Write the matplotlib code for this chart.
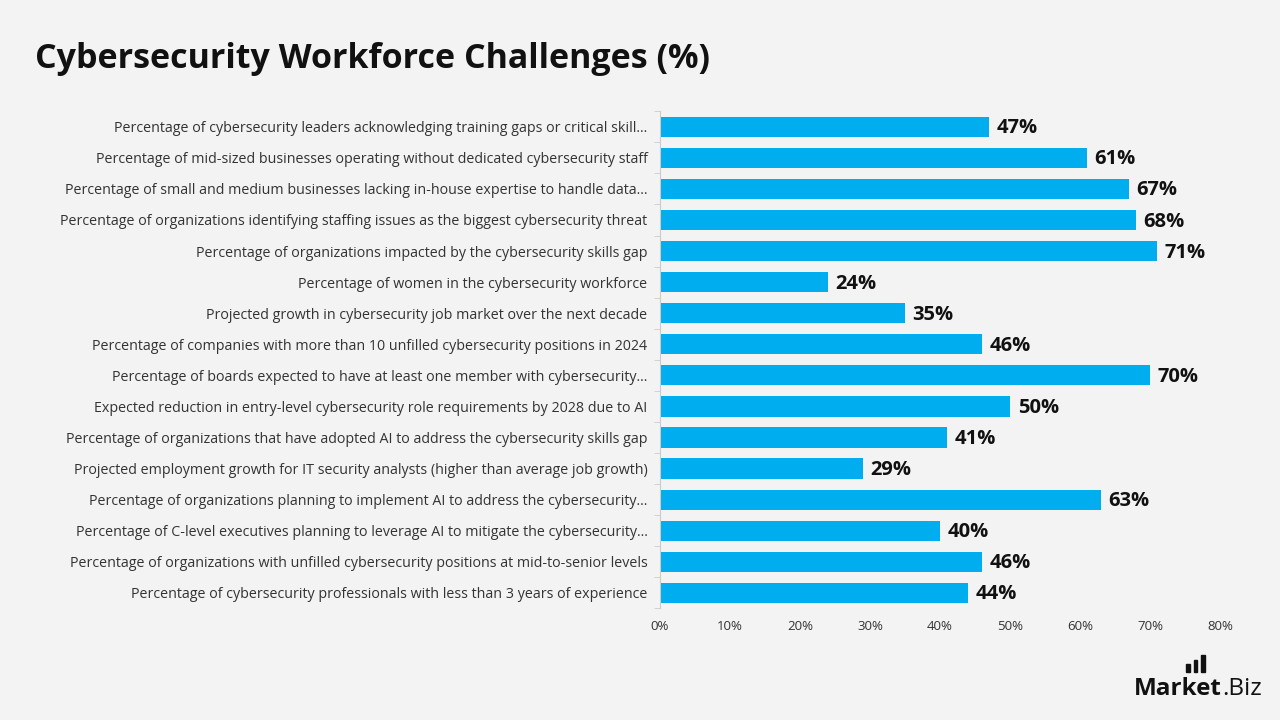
import numpy as np
import matplotlib.pyplot as plt
from matplotlib.patches import Rectangle

plt.rcParams['font.family'] = ['Open Sans', 'DejaVu Sans']

# Data (top to bottom as shown)
labels = [
    "Percentage of cybersecurity leaders acknowledging training gaps or critical skill...",
    "Percentage of mid-sized businesses operating without dedicated cybersecurity staff",
    "Percentage of small and medium businesses lacking in-house expertise to handle data...",
    "Percentage of organizations identifying staffing issues as the biggest cybersecurity threat",
    "Percentage of organizations impacted by the cybersecurity skills gap",
    "Percentage of women in the cybersecurity workforce",
    "Projected growth in cybersecurity job market over the next decade",
    "Percentage of companies with more than 10 unfilled cybersecurity positions in 2024",
    "Percentage of boards expected to have at least one member with cybersecurity...",
    "Expected reduction in entry-level cybersecurity role requirements by 2028 due to AI",
    "Percentage of organizations that have adopted AI to address the cybersecurity skills gap",
    "Projected employment growth for IT security analysts (higher than average job growth)",
    "Percentage of organizations planning to implement AI to address the cybersecurity...",
    "Percentage of C-level executives planning to leverage AI to mitigate the cybersecurity...",
    "Percentage of organizations with unfilled cybersecurity positions at mid-to-senior levels",
    "Percentage of cybersecurity professionals with less than 3 years of experience",
]
values = [47, 61, 67, 68, 71, 24, 35, 46, 70, 50, 41, 29, 63, 40, 46, 44]
xticks = [0, 10, 20, 30, 40, 50, 60, 70, 80]

bg = '#f3f3f3'
fig = plt.figure(figsize=(12.8, 7.2), dpi=100, facecolor=bg)
ax = fig.add_axes([0.5156, 0.155, 0.4375, 0.6905], facecolor=bg)

y = np.arange(len(values))
ax.barh(y, values, height=0.65, color='#00adef')
for yi, v in zip(y, values):
    ax.text(v + 1.1, yi + 0.05, f"{v}%", va='center', ha='left', fontsize=14.5,
            fontweight='bold', color='#111111')

ax.set_ylim(len(values) - 0.5, -0.5)
ax.set_xlim(0, 80)
ax.set_yticks(y)
ax.set_yticklabels(labels, fontsize=10.3, color='#333333')
ax.set_yticks(np.arange(len(values) + 1) - 0.5, minor=True)
ax.tick_params(axis='y', which='major', length=0, pad=9)
ax.tick_params(axis='y', which='minor', length=4, color='#cccccc')
ax.set_xticks(xticks)
ax.set_xticklabels([f"{t}%" for t in xticks], fontsize=9.5, color='#333333')
ax.tick_params(axis='x', length=0, pad=8)
for s in ['top', 'right', 'bottom']:
    ax.spines[s].set_visible(False)
ax.spines['left'].set_color('#cccccc')

fig.text(0.027, 0.918, "Cybersecurity Workforce Challenges (%)", fontsize=24.5,
         fontweight='bold', color='#111111', va='center')

# logo
fig.text(0.9547, 0.035, "Market", fontsize=17.5, fontweight='bold', color='#111111', ha='right')
fig.text(0.9547, 0.035, ".Biz", fontsize=17.5, color='#111111', ha='left')
for i, h in enumerate([0.012, 0.018, 0.024]):
    fig.add_artist(Rectangle((0.9265 + i * 0.006, 0.066), 0.003, h,
                             transform=fig.transFigure, color='#111111'))

fig.savefig('out.png', dpi=100, facecolor=bg)
